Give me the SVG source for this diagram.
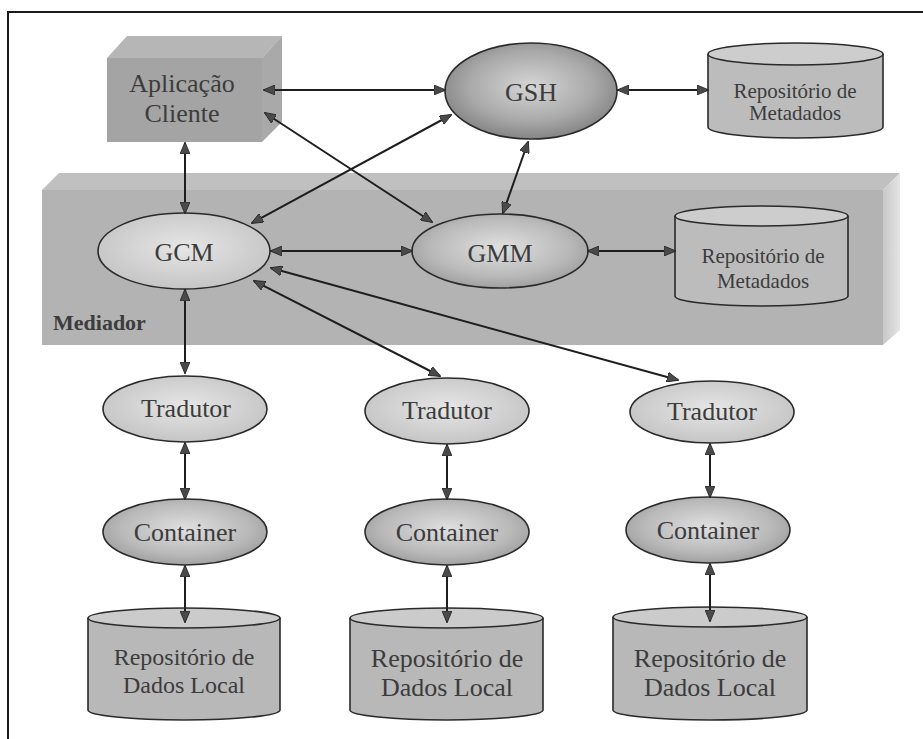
<svg xmlns="http://www.w3.org/2000/svg" width="923" height="739" viewBox="0 0 923 739">
  <style>
    text { font-family: "Liberation Serif", "DejaVu Serif", serif; }
    .lbl { fill: #3c3c3c; text-anchor: middle; }
    .big { font-size: 26px; }
    .mid { font-size: 21px; }
    .edge { stroke: #1e1e1e; stroke-width: 2; fill: none; marker-start: url(#head); marker-end: url(#head); }
    .outline { stroke: #2a2a2a; stroke-width: 1.6; }
  </style>
  <defs>
    <marker id="head" viewBox="0 0 12 10" refX="11" refY="5" markerWidth="12" markerHeight="10" markerUnits="userSpaceOnUse" orient="auto-start-reverse">
      <path d="M0,0 L12,5 L0,10 Z" fill="#4a4a4a" stroke="#222" stroke-width="0.8"/>
    </marker>
    <radialGradient id="gDark" cx="50%" cy="45%" r="60%">
      <stop offset="0" stop-color="#d6d6d6"/>
      <stop offset="0.6" stop-color="#a9a9a9"/>
      <stop offset="1" stop-color="#7c7c7c"/>
    </radialGradient>
    <radialGradient id="gMid" cx="50%" cy="45%" r="60%">
      <stop offset="0" stop-color="#e0e0e0"/>
      <stop offset="0.65" stop-color="#b9b9b9"/>
      <stop offset="1" stop-color="#999"/>
    </radialGradient>
    <radialGradient id="gLight" cx="50%" cy="45%" r="60%">
      <stop offset="0" stop-color="#e6e6e6"/>
      <stop offset="1" stop-color="#c2c2c2"/>
    </radialGradient>
    <linearGradient id="gSide" x1="0" y1="0" x2="1" y2="0">
      <stop offset="0" stop-color="#c8c8c8"/>
      <stop offset="1" stop-color="#e4e4e4"/>
    </linearGradient>
  </defs>

  <!-- page frame -->
  <path d="M8,739 L8,12 L923,12" fill="none" stroke="#1a1a1a" stroke-width="2"/>

  <!-- mediator block -->
  <g id="mediador">
    <polygon points="42,190 59,173 900,173 883,190" fill="#c0c0c0"/>
    <polygon points="883,190 900,173 900,330 883,345" fill="url(#gSide)"/>
    <rect x="42" y="190" width="841" height="155" fill="#b3b3b3"/>
    <text x="53" y="330" font-weight="bold" font-size="22" fill="#3c3c3c">Mediador</text>
  </g>

  <!-- client application block -->
  <g id="aplicacao">
    <polygon points="107,58 127,36 282,36 262,58" fill="#b6b6b6"/>
    <polygon points="262,58 282,36 282,122 262,142" fill="#a9a9a9"/>
    <rect x="107" y="58" width="155" height="84" fill="#a4a4a4"/>
    <text class="lbl big" x="182" y="92">Aplicação</text>
    <text class="lbl big" x="182" y="122">Cliente</text>
  </g>

  <g id="gsh">
    <ellipse cx="531" cy="91" rx="86" ry="48" fill="url(#gDark)" class="outline"/>
    <text class="lbl big" x="531" y="101">GSH</text>
  </g>

  <g id="repo-meta-top">
    <path d="M708,54 L708,127 A87.5,11 0 0 0 883,127 L883,54" fill="#bcbcbc" class="outline"/>
    <ellipse cx="795.5" cy="54" rx="87.5" ry="11" fill="#cdcdcd" class="outline"/>
    <text class="lbl mid" x="795" y="98">Repositório de</text>
    <text class="lbl mid" x="795" y="120">Metadados</text>
  </g>

  <g id="gcm">
    <ellipse cx="184" cy="251" rx="86" ry="38" fill="url(#gLight)" class="outline"/>
    <text class="lbl big" x="184" y="261">GCM</text>
  </g>

  <g id="gmm">
    <ellipse cx="500" cy="251" rx="88" ry="37" fill="url(#gMid)" class="outline"/>
    <text class="lbl big" x="500" y="262">GMM</text>
  </g>

  <g id="repo-meta-mediador">
    <path d="M675,216 L675,296 A86.5,10 0 0 0 848,296 L848,216" fill="#bcbcbc" class="outline"/>
    <ellipse cx="761.5" cy="216" rx="86.5" ry="10" fill="#cdcdcd" class="outline"/>
    <text class="lbl mid" x="763" y="263">Repositório de</text>
    <text class="lbl mid" x="763" y="288">Metadados</text>
  </g>

  <!-- translators -->
  <g id="tradutor-1">
    <ellipse cx="185" cy="409" rx="82" ry="33" fill="url(#gLight)" class="outline"/>
    <text class="lbl big" x="186" y="417">Tradutor</text>
  </g>
  <g id="tradutor-2">
    <ellipse cx="447" cy="411" rx="82" ry="33" fill="url(#gLight)" class="outline"/>
    <text class="lbl big" x="447" y="419">Tradutor</text>
  </g>
  <g id="tradutor-3">
    <ellipse cx="712" cy="412" rx="82" ry="31" fill="url(#gLight)" class="outline"/>
    <text class="lbl big" x="712" y="420">Tradutor</text>
  </g>

  <!-- containers -->
  <g id="container-1">
    <ellipse cx="185" cy="532" rx="82" ry="33" fill="url(#gMid)" class="outline"/>
    <text class="lbl big" x="185" y="541">Container</text>
  </g>
  <g id="container-2">
    <ellipse cx="447" cy="532" rx="82" ry="33" fill="url(#gMid)" class="outline"/>
    <text class="lbl big" x="447" y="541">Container</text>
  </g>
  <g id="container-3">
    <ellipse cx="708" cy="530" rx="82" ry="33" fill="url(#gMid)" class="outline"/>
    <text class="lbl big" x="708" y="539">Container</text>
  </g>

  <!-- local data repositories -->
  <g id="repo-local-1">
    <path d="M88,618 L88,710 A96,10 0 0 0 280,710 L280,618" fill="#b8b8b8" class="outline"/>
    <ellipse cx="184" cy="618" rx="96" ry="10" fill="#cbcbcb" class="outline"/>
    <text class="lbl" font-size="24" x="184" y="665">Repositório de</text>
    <text class="lbl" font-size="24" x="184" y="693">Dados Local</text>
  </g>
  <g id="repo-local-2">
    <path d="M350,618 L350,710 A96.5,10 0 0 0 543,710 L543,618" fill="#b8b8b8" class="outline"/>
    <ellipse cx="446.5" cy="618" rx="96.5" ry="10" fill="#cbcbcb" class="outline"/>
    <text class="lbl big" x="447" y="667">Repositório de</text>
    <text class="lbl big" x="447" y="696">Dados Local</text>
  </g>
  <g id="repo-local-3">
    <path d="M613,617 L613,710 A97,10 0 0 0 807,710 L807,617" fill="#b8b8b8" class="outline"/>
    <ellipse cx="710" cy="617" rx="97" ry="10" fill="#cbcbcb" class="outline"/>
    <text class="lbl big" x="710" y="667">Repositório de</text>
    <text class="lbl big" x="710" y="696">Dados Local</text>
  </g>

  <!-- connectors -->
  <g id="connectors">
    <line class="edge" x1="264" y1="90" x2="445" y2="90"/>
    <line class="edge" x1="618" y1="90" x2="708" y2="90"/>
    <line class="edge" x1="265" y1="113" x2="432" y2="222"/>
    <line class="edge" x1="451" y1="115" x2="252" y2="223"/>
    <line class="edge" x1="528" y1="142" x2="503" y2="213"/>
    <line class="edge" x1="185" y1="143" x2="185" y2="213"/>
    <line class="edge" x1="271" y1="251" x2="412" y2="251"/>
    <line class="edge" x1="588" y1="251" x2="675" y2="251"/>
    <line class="edge" x1="185" y1="290" x2="185" y2="373"/>
    <line class="edge" x1="254" y1="281" x2="440" y2="376"/>
    <line class="edge" x1="271" y1="268" x2="678" y2="380"/>
    <line class="edge" x1="185" y1="443" x2="185" y2="499"/>
    <line class="edge" x1="447" y1="445" x2="447" y2="499"/>
    <line class="edge" x1="710" y1="444" x2="710" y2="497"/>
    <line class="edge" x1="185" y1="566" x2="185" y2="622"/>
    <line class="edge" x1="447" y1="566" x2="447" y2="622"/>
    <line class="edge" x1="710" y1="564" x2="710" y2="621"/>
  </g>
</svg>
